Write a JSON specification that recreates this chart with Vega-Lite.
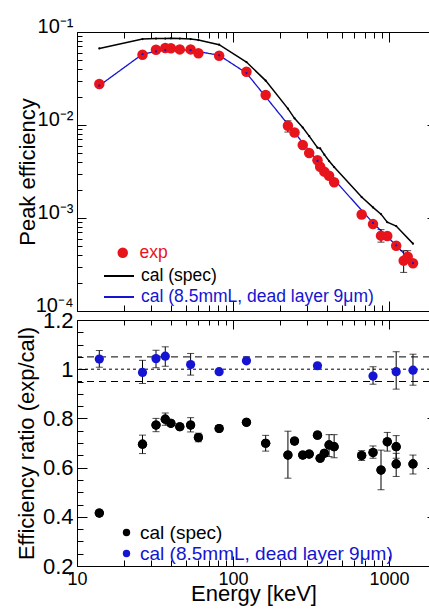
{
  "$schema": "https://vega.github.io/schema/vega-lite/v6.json",
  "padding": {"left": 15, "top": 16, "right": 0, "bottom": 5},
  "spacing": 9,
  "bounds": "flush",
  "resolve": {
    "scale": {"color": "independent", "stroke": "independent", "strokeDash": "independent", "shape": "independent"},
    "legend": {"color": "independent", "stroke": "independent", "strokeDash": "independent", "shape": "independent"}
  },
  "config": {
    "view": {"stroke": null},
    "font": "Liberation Sans",
    "axis": {"grid": false, "domainColor": "black", "tickColor": "black", "labelColor": "black", "titleColor": "black", "titleFontWeight": "normal", "labelOverlap": false, "labelFlush": false, "labelBound": false, "domainWidth": 1, "tickWidth": 1},
    "legend": {"title": null, "orient": "none", "padding": 0, "symbolOpacity": 1, "labelFont": "Liberation Sans", "labelLimit": 400}
  },
  "datasets": {
    "exp": [
      {"E": 13.9, "eff": 0.0276, "series": "exp"},
      {"E": 26.3, "eff": 0.057, "series": "exp"},
      {"E": 32.1, "eff": 0.0645, "series": "exp"},
      {"E": 36.8, "eff": 0.0673, "series": "exp"},
      {"E": 40.0, "eff": 0.067, "series": "exp"},
      {"E": 45.6, "eff": 0.065, "series": "exp"},
      {"E": 53.5, "eff": 0.065, "series": "exp"},
      {"E": 60.0, "eff": 0.059, "series": "exp"},
      {"E": 81.5, "eff": 0.0556, "series": "exp"},
      {"E": 122, "eff": 0.0374, "series": "exp"},
      {"E": 162, "eff": 0.021, "series": "exp"},
      {"E": 225, "eff": 0.0098, "series": "exp"},
      {"E": 248, "eff": 0.0083, "series": "exp"},
      {"E": 280, "eff": 0.0061, "series": "exp"},
      {"E": 308, "eff": 0.005, "series": "exp"},
      {"E": 348, "eff": 0.00417, "series": "exp"},
      {"E": 362, "eff": 0.00356, "series": "exp"},
      {"E": 385, "eff": 0.00315, "series": "exp"},
      {"E": 413, "eff": 0.00285, "series": "exp"},
      {"E": 445, "eff": 0.00242, "series": "exp"},
      {"E": 668, "eff": 0.00109, "series": "exp"},
      {"E": 790, "eff": 0.00086, "series": "exp"},
      {"E": 889, "eff": 0.000646, "series": "exp"},
      {"E": 975, "eff": 0.00064, "series": "exp"},
      {"E": 1112, "eff": 0.000503, "series": "exp"},
      {"E": 1242, "eff": 0.000348, "series": "exp"},
      {"E": 1318, "eff": 0.000384, "series": "exp"},
      {"E": 1425, "eff": 0.000326, "series": "exp"}
    ],
    "experr": [
      {"E": 225, "lo": 0.0084, "hi": 0.0111},
      {"E": 889, "lo": 0.00055, "hi": 0.00075},
      {"E": 1242, "lo": 0.00026, "hi": 0.000445},
      {"E": 1318, "lo": 0.00034, "hi": 0.000445}
    ],
    "calspec": [
      {"E": 13.9, "eff": 0.0665, "series": "cal (spec)"},
      {"E": 26.3, "eff": 0.084, "series": "cal (spec)"},
      {"E": 32.1, "eff": 0.085, "series": "cal (spec)"},
      {"E": 36.8, "eff": 0.085, "series": "cal (spec)"},
      {"E": 40.0, "eff": 0.0855, "series": "cal (spec)"},
      {"E": 45.6, "eff": 0.085, "series": "cal (spec)"},
      {"E": 53.5, "eff": 0.084, "series": "cal (spec)"},
      {"E": 60.0, "eff": 0.082, "series": "cal (spec)"},
      {"E": 81.5, "eff": 0.073, "series": "cal (spec)"},
      {"E": 122, "eff": 0.0475, "series": "cal (spec)"},
      {"E": 162, "eff": 0.030, "series": "cal (spec)"},
      {"E": 225, "eff": 0.0150, "series": "cal (spec)"},
      {"E": 248, "eff": 0.0118, "series": "cal (spec)"},
      {"E": 280, "eff": 0.0094, "series": "cal (spec)"},
      {"E": 308, "eff": 0.0076, "series": "cal (spec)"},
      {"E": 348, "eff": 0.0057, "series": "cal (spec)"},
      {"E": 362, "eff": 0.0056, "series": "cal (spec)"},
      {"E": 385, "eff": 0.0048, "series": "cal (spec)"},
      {"E": 413, "eff": 0.0041, "series": "cal (spec)"},
      {"E": 445, "eff": 0.00353, "series": "cal (spec)"},
      {"E": 668, "eff": 0.00168, "series": "cal (spec)"},
      {"E": 790, "eff": 0.0013, "series": "cal (spec)"},
      {"E": 889, "eff": 0.0011, "series": "cal (spec)"},
      {"E": 975, "eff": 0.0009, "series": "cal (spec)"},
      {"E": 1112, "eff": 0.00082, "series": "cal (spec)"},
      {"E": 1425, "eff": 0.00053, "series": "cal (spec)"}
    ],
    "cal85": [
      {"E": 13.9, "eff": 0.0265, "series": "cal (8.5mmL, dead layer 9μm)"},
      {"E": 26.3, "eff": 0.0578, "series": "cal (8.5mmL, dead layer 9μm)"},
      {"E": 32.1, "eff": 0.0618, "series": "cal (8.5mmL, dead layer 9μm)"},
      {"E": 36.8, "eff": 0.0639, "series": "cal (8.5mmL, dead layer 9μm)"},
      {"E": 53.5, "eff": 0.0638, "series": "cal (8.5mmL, dead layer 9μm)"},
      {"E": 81.5, "eff": 0.0562, "series": "cal (8.5mmL, dead layer 9μm)"},
      {"E": 122, "eff": 0.0362, "series": "cal (8.5mmL, dead layer 9μm)"},
      {"E": 348, "eff": 0.00411, "series": "cal (8.5mmL, dead layer 9μm)"},
      {"E": 790, "eff": 0.000884, "series": "cal (8.5mmL, dead layer 9μm)"},
      {"E": 1112, "eff": 0.000509, "series": "cal (8.5mmL, dead layer 9μm)"},
      {"E": 1425, "eff": 0.000327, "series": "cal (8.5mmL, dead layer 9μm)"}
    ],
    "ratioSpec": [
      {"E": 13.9, "r": 0.415, "lo": 0.41, "hi": 0.42, "series": "cal (spec)"},
      {"E": 26.3, "r": 0.695, "lo": 0.657, "hi": 0.732, "series": "cal (spec)"},
      {"E": 32.1, "r": 0.773, "lo": 0.746, "hi": 0.8, "series": "cal (spec)"},
      {"E": 36.8, "r": 0.797, "lo": 0.772, "hi": 0.822, "series": "cal (spec)"},
      {"E": 40.0, "r": 0.78, "lo": 0.772, "hi": 0.788, "series": "cal (spec)"},
      {"E": 45.6, "r": 0.766, "lo": 0.758, "hi": 0.774, "series": "cal (spec)"},
      {"E": 53.5, "r": 0.773, "lo": 0.745, "hi": 0.803, "series": "cal (spec)"},
      {"E": 60.0, "r": 0.722, "lo": 0.705, "hi": 0.74, "series": "cal (spec)"},
      {"E": 81.5, "r": 0.759, "lo": 0.752, "hi": 0.766, "series": "cal (spec)"},
      {"E": 122, "r": 0.784, "lo": 0.777, "hi": 0.791, "series": "cal (spec)"},
      {"E": 162, "r": 0.699, "lo": 0.667, "hi": 0.731, "series": "cal (spec)"},
      {"E": 225, "r": 0.651, "lo": 0.557, "hi": 0.748, "series": "cal (spec)"},
      {"E": 248, "r": 0.708, "lo": 0.7, "hi": 0.716, "series": "cal (spec)"},
      {"E": 280, "r": 0.651, "lo": 0.64, "hi": 0.662, "series": "cal (spec)"},
      {"E": 308, "r": 0.655, "lo": 0.646, "hi": 0.664, "series": "cal (spec)"},
      {"E": 348, "r": 0.732, "lo": 0.724, "hi": 0.74, "series": "cal (spec)"},
      {"E": 362, "r": 0.638, "lo": 0.63, "hi": 0.646, "series": "cal (spec)"},
      {"E": 385, "r": 0.658, "lo": 0.646, "hi": 0.67, "series": "cal (spec)"},
      {"E": 413, "r": 0.692, "lo": 0.645, "hi": 0.734, "series": "cal (spec)"},
      {"E": 445, "r": 0.685, "lo": 0.64, "hi": 0.734, "series": "cal (spec)"},
      {"E": 668, "r": 0.649, "lo": 0.629, "hi": 0.669, "series": "cal (spec)"},
      {"E": 790, "r": 0.661, "lo": 0.638, "hi": 0.688, "series": "cal (spec)"},
      {"E": 889, "r": 0.59, "lo": 0.51, "hi": 0.671, "series": "cal (spec)"},
      {"E": 975, "r": 0.705, "lo": 0.667, "hi": 0.743, "series": "cal (spec)"},
      {"E": 1112, "r": 0.685, "lo": 0.638, "hi": 0.73, "series": "cal (spec)"},
      {"E": 1112, "r": 0.615, "lo": 0.564, "hi": 0.658, "series": "cal (spec)"},
      {"E": 1425, "r": 0.615, "lo": 0.574, "hi": 0.651, "series": "cal (spec)"}
    ],
    "ratio85": [
      {"E": 13.9, "r": 1.041, "lo": 1.008, "hi": 1.076, "series": "cal (8.5mmL, dead layer 9μm)"},
      {"E": 26.3, "r": 0.987, "lo": 0.942, "hi": 1.036, "series": "cal (8.5mmL, dead layer 9μm)"},
      {"E": 32.1, "r": 1.043, "lo": 1.006, "hi": 1.077, "series": "cal (8.5mmL, dead layer 9μm)"},
      {"E": 36.8, "r": 1.053, "lo": 1.012, "hi": 1.091, "series": "cal (8.5mmL, dead layer 9μm)"},
      {"E": 53.5, "r": 1.019, "lo": 0.976, "hi": 1.064, "series": "cal (8.5mmL, dead layer 9μm)"},
      {"E": 81.5, "r": 0.99, "lo": 0.984, "hi": 0.996, "series": "cal (8.5mmL, dead layer 9μm)"},
      {"E": 122, "r": 1.034, "lo": 1.028, "hi": 1.04, "series": "cal (8.5mmL, dead layer 9μm)"},
      {"E": 348, "r": 1.014, "lo": 1.006, "hi": 1.022, "series": "cal (8.5mmL, dead layer 9μm)"},
      {"E": 790, "r": 0.972, "lo": 0.939, "hi": 1.01, "series": "cal (8.5mmL, dead layer 9μm)"},
      {"E": 1112, "r": 0.99, "lo": 0.919, "hi": 1.071, "series": "cal (8.5mmL, dead layer 9μm)"},
      {"E": 1425, "r": 0.996, "lo": 0.935, "hi": 1.061, "series": "cal (8.5mmL, dead layer 9μm)"}
    ]
  },
  "vconcat": [
    {
      "width": 353,
      "height": 279,
      "resolve": {"axis": {"x": "independent", "y": "independent"}},
      "layer": [
        {
          "data": {"name": "calspec"},
          "mark": {"type": "line", "strokeWidth": 1.5},
          "encoding": {
            "x": {"field": "E", "type": "quantitative", "scale": {"type": "log", "domain": [10, 1832], "nice": false},
              "axis": {"orient": "bottom", "values": [10,20,30,40,50,60,70,80,90,100,200,300,400,500,600,700,800,900,1000], "labels": false, "title": null,
                "tickSize": {"condition": {"test": "datum.value==10||datum.value==100||datum.value==1000", "value": -10}, "value": -6}}},
            "y": {"field": "eff", "type": "quantitative", "scale": {"type": "log", "domain": [0.0001, 0.1], "nice": false},
              "axis": {"orient": "left", "values": [0.0001,0.0002,0.0003,0.0004,0.0005,0.0006,0.0007,0.0008,0.0009,0.001,0.002,0.003,0.004,0.005,0.006,0.007,0.008,0.009,0.01,0.02,0.03,0.04,0.05,0.06,0.07,0.08,0.09,0.1],
                "tickSize": {"condition": {"test": "datum.value==0.0001||datum.value==0.001||datum.value==0.01||datum.value==0.1", "value": -9}, "value": -5},
                "labelExpr": "datum.value==0.1?'10⁻¹':datum.value==0.01?'10⁻²':datum.value==0.001?'10⁻³':datum.value==0.0001?'10⁻⁴':''",
                "labelFontSize": 20, "labelPadding": 13, "labelBaseline": "alphabetic", "labelDy": 1,
                "title": "Peak efficiency", "titleFontSize": 22, "titlePadding": -4}},
            "stroke": {"field": "series", "type": "nominal",
              "scale": {"domain": ["cal (spec)"], "range": ["#000000"]},
              "legend": {"legendX": 26, "legendY": 228, "labelFontSize": 17.5, "labelColor": "#000000", "symbolType": "stroke", "symbolSize": 900, "symbolStrokeWidth": 2, "symbolStrokeColor": "#000000", "labelOffset": 6}}
          }
        },
        {
          "data": {"name": "calspec"},
          "mark": {"type": "point", "filled": true, "size": 5, "color": "#000000", "opacity": 1},
          "encoding": {
            "x": {"field": "E", "type": "quantitative",
              "axis": {"orient": "top", "values": [10,20,30,40,50,60,70,80,90,100,200,300,400,500,600,700,800,900,1000], "labels": false, "title": null,
                "tickSize": {"condition": {"test": "datum.value==10||datum.value==100||datum.value==1000", "value": -10}, "value": -6}}},
            "y": {"field": "eff", "type": "quantitative",
              "axis": {"orient": "right", "values": [0.001, 0.01], "labels": false, "title": null, "domain": false, "tickSize": -3}}
          }
        },
        {
          "data": {"name": "cal85"},
          "mark": {"type": "line", "strokeWidth": 1.3, "color": "#1414d2"},
          "encoding": {
            "x": {"field": "E", "type": "quantitative", "axis": null},
            "y": {"field": "eff", "type": "quantitative", "axis": null},
            "strokeDash": {"field": "series", "type": "nominal",
              "scale": {"domain": ["cal (8.5mmL, dead layer 9μm)"], "range": [[1, 0]]},
              "legend": {"legendX": 26, "legendY": 249, "labelFontSize": 17.5, "labelColor": "#1414d2", "symbolType": "stroke", "symbolSize": 900, "symbolStrokeWidth": 2, "symbolStrokeColor": "#1414d2", "labelOffset": 6}}
          }
        },
        {
          "data": {"name": "experr"},
          "mark": {"type": "errorbar", "ticks": {"size": 7}, "color": "#000000"},
          "encoding": {
            "x": {"field": "E", "type": "quantitative", "axis": null},
            "y": {"field": "lo", "type": "quantitative", "axis": null},
            "y2": {"field": "hi"}
          }
        },
        {
          "data": {"name": "exp"},
          "mark": {"type": "point", "filled": true, "size": 110, "opacity": 1},
          "encoding": {
            "x": {"field": "E", "type": "quantitative", "axis": null},
            "y": {"field": "eff", "type": "quantitative", "axis": null},
            "color": {"field": "series", "type": "nominal",
              "scale": {"domain": ["exp"], "range": ["#e8141c"]},
              "legend": {"legendX": 37, "legendY": 212, "labelFontSize": 17.5, "labelColor": "#e8141c", "symbolType": "circle", "symbolSize": 110, "labelOffset": 8}}
          }
        },
        {
          "data": {"name": "cal85"},
          "mark": {"type": "point", "filled": true, "size": 5, "color": "#1414d2", "opacity": 1},
          "encoding": {
            "x": {"field": "E", "type": "quantitative", "axis": null},
            "y": {"field": "eff", "type": "quantitative", "axis": null}
          }
        }
      ]
    },
    {
      "width": 353,
      "height": 246,
      "resolve": {"axis": {"x": "independent", "y": "independent"}},
      "layer": [
        {
          "data": {"name": "ratioSpec"},
          "mark": {"type": "point", "filled": true, "size": 85, "opacity": 1, "color": "#000000"},
          "encoding": {
            "x": {"field": "E", "type": "quantitative", "scale": {"type": "log", "domain": [10, 1832], "nice": false},
              "axis": {"orient": "bottom", "values": [10,20,30,40,50,60,70,80,90,100,200,300,400,500,600,700,800,900,1000],
                "tickSize": {"condition": {"test": "datum.value==10||datum.value==100||datum.value==1000", "value": -10}, "value": -6},
                "labelExpr": "datum.value==10?'10':datum.value==100?'100':datum.value==1000?'1000':''",
                "labelFontSize": 18, "labelPadding": 14, "labelDx": 3,
                "title": "Energy [keV]", "titleFontSize": 22, "titlePadding": -9}},
            "y": {"field": "r", "type": "quantitative", "scale": {"domain": [0.2, 1.2], "nice": false, "zero": false},
              "axis": {"orient": "left", "values": [0.2,0.25,0.3,0.35,0.4,0.45,0.5,0.55,0.6,0.65,0.7,0.75,0.8,0.85,0.9,0.95,1,1.05,1.1,1.15,1.2],
                "tickSize": {"condition": {"test": "abs(datum.value*5-round(datum.value*5))<0.001", "value": -10}, "value": -6},
                "labelExpr": "abs(datum.value*5-round(datum.value*5))<0.001 ? (abs(datum.value-1)<0.001 ? '1' : format(datum.value,'.1f')) : ''",
                "labelFontSize": 22, "labelPadding": 14, "labelDy": 3,
                "title": "Efficiency ratio (exp/cal)", "titleFontSize": 22, "titlePadding": 4}}
          }
        },
        {
          "data": {"name": "ratioSpec"},
          "mark": {"type": "point", "opacity": 0},
          "encoding": {
            "x": {"field": "E", "type": "quantitative",
              "axis": {"orient": "top", "values": [10,20,30,40,50,60,70,80,90,100,200,300,400,500,600,700,800,900,1000], "labels": false, "title": null,
                "tickSize": {"condition": {"test": "datum.value==10||datum.value==100||datum.value==1000", "value": -9}, "value": -5}}},
            "y": {"field": "r", "type": "quantitative",
              "axis": {"orient": "right", "values": [0.4, 0.6, 0.8], "labels": false, "title": null, "domain": false, "tickSize": -3}}
          }
        },
        {
          "data": {"values": [{"lvl": 1.05}, {"lvl": 0.95}]},
          "mark": {"type": "rule", "strokeDash": [7, 5], "strokeWidth": 1, "color": "#000000"},
          "encoding": {"y": {"field": "lvl", "type": "quantitative", "axis": null}}
        },
        {
          "data": {"values": [{"lvl": 1.0}]},
          "mark": {"type": "rule", "strokeDash": [3, 3], "strokeWidth": 1, "color": "#000000"},
          "encoding": {"y": {"field": "lvl", "type": "quantitative", "axis": null}}
        },
        {
          "data": {"name": "ratioSpec"},
          "mark": {"type": "errorbar", "ticks": {"size": 7}, "color": "#000000"},
          "encoding": {
            "x": {"field": "E", "type": "quantitative", "axis": null},
            "y": {"field": "lo", "type": "quantitative", "axis": null},
            "y2": {"field": "hi"}
          }
        },
        {
          "data": {"name": "ratio85"},
          "mark": {"type": "errorbar", "ticks": {"size": 7}, "color": "#000000"},
          "encoding": {
            "x": {"field": "E", "type": "quantitative", "axis": null},
            "y": {"field": "lo", "type": "quantitative", "axis": null},
            "y2": {"field": "hi"}
          }
        },
        {
          "data": {"name": "ratioSpec"},
          "mark": {"type": "point", "filled": true, "size": 85, "opacity": 1},
          "encoding": {
            "x": {"field": "E", "type": "quantitative", "axis": null},
            "y": {"field": "r", "type": "quantitative", "axis": null},
            "color": {"field": "series", "type": "nominal",
              "scale": {"domain": ["cal (spec)"], "range": ["#000000"]},
              "legend": {"legendX": 40, "legendY": 203, "labelFontSize": 19, "labelColor": "#000000", "symbolType": "circle", "symbolSize": 55, "labelOffset": 4}}
          }
        },
        {
          "data": {"name": "ratio85"},
          "mark": {"type": "point", "filled": true, "size": 85, "opacity": 1, "color": "#1414d2"},
          "encoding": {
            "x": {"field": "E", "type": "quantitative", "axis": null},
            "y": {"field": "r", "type": "quantitative", "axis": null},
            "shape": {"field": "series", "type": "nominal",
              "scale": {"domain": ["cal (8.5mmL, dead layer 9μm)"], "range": ["circle"]},
              "legend": {"legendX": 40, "legendY": 224, "labelFontSize": 19, "labelColor": "#1414d2", "symbolType": "circle", "symbolSize": 55, "symbolFillColor": "#1414d2", "symbolStrokeColor": "#1414d2", "labelOffset": 4}}
          }
        }
      ]
    }
  ]
}
